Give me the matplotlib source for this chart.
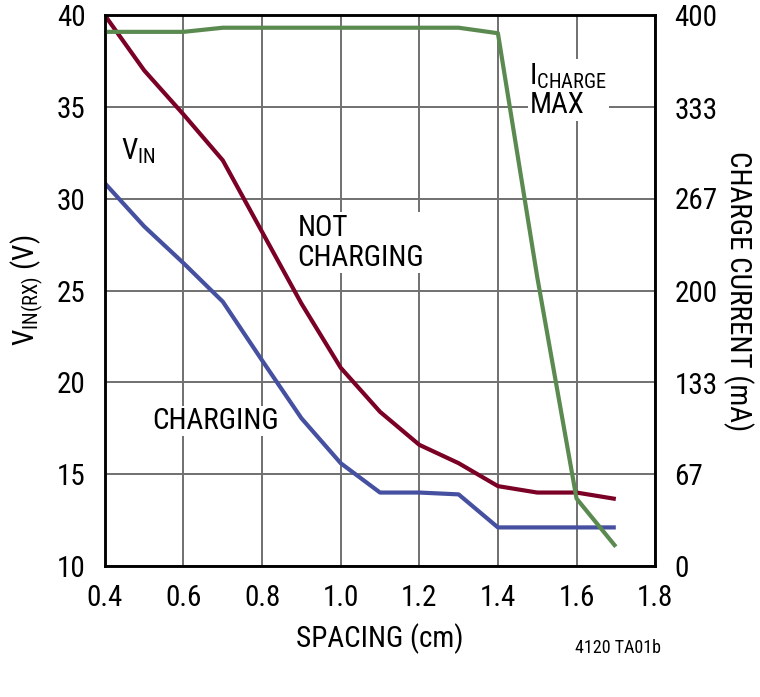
import matplotlib
matplotlib.use("Agg")
import matplotlib.pyplot as plt
from matplotlib import font_manager

# data
spacing_nc = [0.4, 0.5, 0.6, 0.7, 0.8, 0.9, 1.0, 1.1, 1.2, 1.3, 1.4, 1.5, 1.6, 1.7]
vin_not_charging = [40.0, 37.0, 34.6, 32.1, 28.2, 24.3, 20.8, 18.4, 16.6, 15.6, 14.35, 14.0, 14.0, 13.65]

spacing_c = [0.4, 0.5, 0.6, 0.7, 0.8, 0.9, 1.0, 1.1, 1.2, 1.3, 1.4, 1.5, 1.6, 1.7]
vin_charging = [30.85, 28.5, 26.5, 24.4, 21.2, 18.05, 15.6, 14.0, 14.0, 13.9, 12.1, 12.1, 12.1, 12.1]

spacing_i = [0.4, 0.6, 0.7, 0.8, 1.0, 1.2, 1.3, 1.4, 1.5, 1.6, 1.7]
charge_current = [388, 388, 391, 391, 391, 391, 391, 387, 210, 49, 14]

x_ticks = [0.4, 0.6, 0.8, 1.0, 1.2, 1.4, 1.6, 1.8]
left_ticks = [10, 15, 20, 25, 30, 35, 40]
right_ticks = [0, 67, 133, 200, 267, 333, 400]

available = {f.name for f in font_manager.fontManager.ttflist}
narrow = [n for n in ("Liberation Sans Narrow", "Roboto Condensed", "DejaVu Sans Condensed")
          if n in available]
plt.rcParams["font.family"] = narrow + ["DejaVu Sans"]
plt.rcParams["font.stretch"] = "condensed"
plt.rcParams["mathtext.fontset"] = "custom"
plt.rcParams["mathtext.rm"] = (narrow + ["DejaVu Sans"])[0]

FS = 21

fig = plt.figure(figsize=(7.6, 6.97), dpi=100)
ax = fig.add_axes([0.138, 0.188, 0.724, 0.790])
ax2 = ax.twinx()

ax.plot(spacing_nc, vin_not_charging, color="#7a0026", lw=3.0, solid_capstyle="butt")
ax.plot(spacing_c, vin_charging, color="#4550a0", lw=3.0, solid_capstyle="butt")
ax2.plot(spacing_i, charge_current, color="#5b8a50", lw=3.0, solid_capstyle="butt")

ax.set_xlim(0.4, 1.8)
ax.set_ylim(10, 40)
ax2.set_ylim(0, 400)
ax.set_xticks(x_ticks)
ax.set_xticklabels([f"{v:.1f}" for v in x_ticks])
ax.set_yticks(left_ticks)
ax2.set_yticks(right_ticks)

ax.grid(True, color="#707070", lw=1.4)
ax.set_axisbelow(True)
for a in (ax, ax2):
    for s in a.spines.values():
        s.set_linewidth(1.8)
        s.set_color("black")
ax.tick_params(axis="x", labelsize=FS, direction="in", length=0, pad=13)
ax.tick_params(axis="y", labelsize=FS, direction="in", length=0, pad=14)
ax2.tick_params(axis="y", labelsize=FS, direction="in", length=0, pad=14)

ax.set_xlabel("SPACING (cm)", fontsize=FS, labelpad=8)
ax.set_ylabel(r"V$_{\mathregular{IN(RX)}}$ (V)", fontsize=FS, labelpad=8)
ax2.set_ylabel("CHARGE CURRENT (mA)", fontsize=FS, rotation=-90, labelpad=26)

ax.text(0.44, 32.6, r"V$_{\mathregular{IN}}$", fontsize=FS, ha="left", va="center")
ax.text(0.89, 27.6, "NOT\nCHARGING", fontsize=FS, ha="left", va="center", linespacing=1.1,
        bbox=dict(facecolor="white", edgecolor="none", pad=1))
ax.text(0.52, 17.9, "CHARGING", fontsize=FS, ha="left", va="center",
        bbox=dict(facecolor="white", edgecolor="none", pad=1))
ax.text(1.48, 35.9, "I$_{\\mathregular{CHARGE}}$\nMAX", fontsize=FS, ha="left", va="center",
        linespacing=1.0, bbox=dict(facecolor="white", edgecolor="none", pad=1))
fig.text(0.757, 0.07, "4120 TA01b", fontsize=13, ha="left", va="center")

fig.savefig("out.png", dpi=100)
